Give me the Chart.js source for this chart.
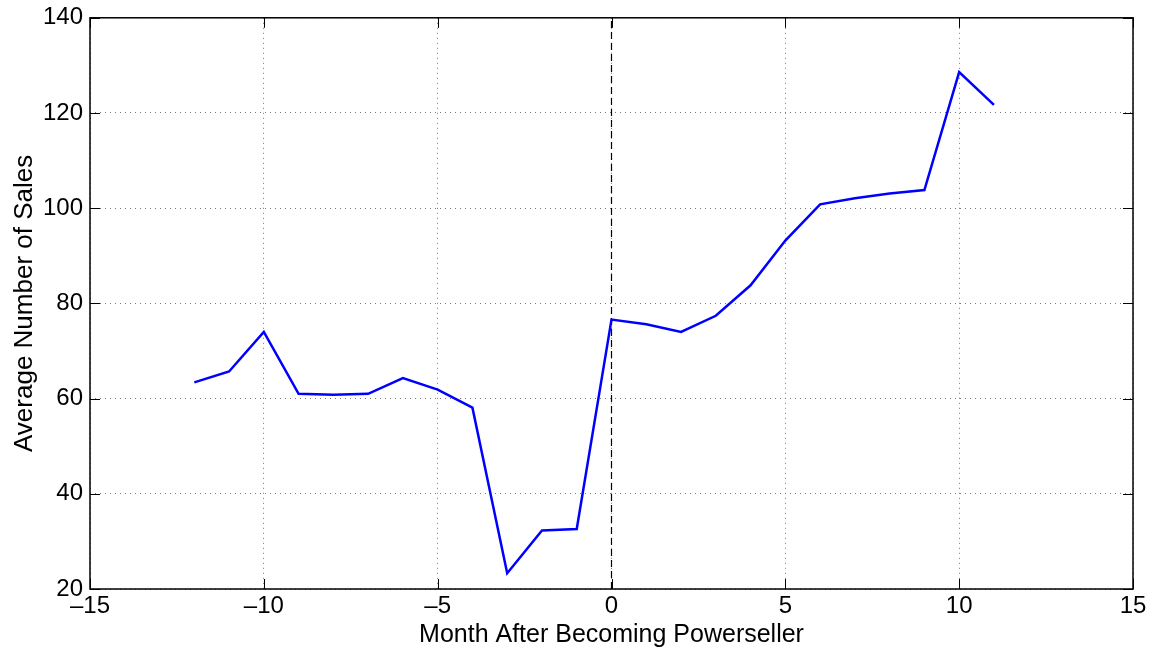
<!DOCTYPE html>
<html lang="en">
<head>
<meta charset="UTF-8">
<title>Average Number of Sales</title>
<script src="https://cdn.jsdelivr.net/npm/chart.js@4/dist/chart.umd.min.js"></script>
<style>
  body { margin: 0; background: #fff; }
  #wrap { width: 1160px; height: 654px; }
</style>
</head>
<body>
<div id="wrap"><canvas id="myChart" width="1160" height="654"></canvas></div>
<script>
// months relative to becoming a powerseller
var months = [-12, -11, -10, -9, -8, -7, -6, -5, -4, -3, -2, -1, 0, 1, 2, 3, 4, 5, 6, 7, 8, 9, 10, 11];
// average number of sales
var sales = [63.4, 65.7, 74.0, 61.0, 60.8, 61.0, 64.3, 61.9, 58.1, 23.3, 32.3, 32.6,
             76.6, 75.6, 74.0, 77.4, 83.8, 93.2, 100.8, 102.1, 103.1, 103.8, 128.6, 121.7];
// the vertical marker at month 0
var markerX = [0, 0];
var markerY = [20, 140];

var xTicks = [-15, -10, -5, 0, 5, 10, 15];
var yTicks = [20, 40, 60, 80, 100, 120, 140];

var font = "'Liberation Sans', Arial, Helvetica, sans-serif";

function pts(xs, ys) {
  var out = [];
  for (var i = 0; i < xs.length; i++) out.push({ x: xs[i], y: ys[i] });
  return out;
}

// box around the plot and inward tick marks on all four sides
var boxPlugin = {
  id: 'box',
  afterDatasetsDraw: function (chart) {
    var a = chart.chartArea, ctx = chart.ctx;
    var xs = chart.scales.x, ys = chart.scales.y;
    ctx.save();
    ctx.strokeStyle = '#000';
    ctx.lineWidth = 1;
    ctx.beginPath();
    xTicks.forEach(function (v) {
      var px = Math.round(xs.getPixelForValue(v)) + 0.5;
      ctx.moveTo(px, a.bottom); ctx.lineTo(px, a.bottom - 10);
      ctx.moveTo(px, a.top); ctx.lineTo(px, a.top + 10);
    });
    yTicks.forEach(function (v) {
      var py = Math.round(ys.getPixelForValue(v)) + 0.5;
      ctx.moveTo(a.left, py); ctx.lineTo(a.left + 10, py);
      ctx.moveTo(a.right, py); ctx.lineTo(a.right - 10, py);
    });
    ctx.stroke();
    ctx.lineWidth = 1.5;
    ctx.strokeRect(a.left, a.top, a.right - a.left, a.bottom - a.top);
    ctx.restore();
  }
};

var ctx = document.getElementById('myChart').getContext('2d');
var chart = new Chart(ctx, {
  type: 'line',
  data: {
    datasets: [
      {
        label: 'Sales',
        data: pts(months, sales),
        borderColor: '#0000ff',
        borderWidth: 2.5,
        pointRadius: 0,
        fill: false,
        tension: 0
      },
      {
        label: 'Month 0',
        data: pts(markerX, markerY),
        borderColor: '#000',
        borderWidth: 1.2,
        borderDash: [7, 4],
        pointRadius: 0,
        fill: false
      }
    ]
  },
  options: {
    responsive: false,
    animation: false,
    layout: { padding: { top: 16, right: 27, left: 0, bottom: 0 } },
    plugins: { legend: { display: false }, tooltip: { enabled: false } },
    scales: {
      x: {
        type: 'linear',
        min: -15, max: 15,
        afterBuildTicks: function (s) { s.ticks = xTicks.map(function (v) { return { value: v }; }); },
        afterFit: function (s) { s.height = 65; },
        border: { display: false, dash: [1, 4] },
        grid: { color: '#777', drawTicks: false },
        ticks: {
          color: '#000', padding: 3, maxRotation: 0,
          font: { family: font, size: 24 },
          callback: function (v) { return String(v).replace('-', '\u2013'); }
        },
        title: {
          display: true, text: 'Month After Becoming Powerseller', color: '#000',
          font: { family: font, size: 25 }, padding: { top: 0, bottom: 4 }
        }
      },
      y: {
        min: 20, max: 140,
        afterBuildTicks: function (s) { s.ticks = yTicks.map(function (v) { return { value: v }; }); },
        afterFit: function (s) { s.width = 90; },
        border: { display: false, dash: [1, 4] },
        grid: { color: '#777', drawTicks: false },
        ticks: {
          color: '#000', padding: 7,
          font: { family: font, size: 24, lineHeight: 0.9 }
        },
        title: {
          display: true, text: 'Average Number of Sales', color: '#000',
          font: { family: font, size: 26 }, padding: { top: 9, bottom: 0 }
        }
      }
    }
  },
  plugins: [boxPlugin]
});
</script>
</body>
</html>
